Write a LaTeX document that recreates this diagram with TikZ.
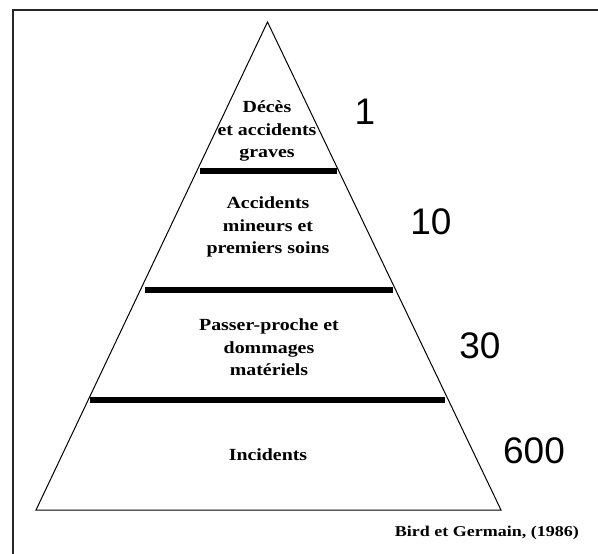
\documentclass[tikz,border=0pt]{standalone}
\usepackage{fontspec}
\setmainfont{Liberation Serif}
\newfontfamily\lblfont{Liberation Serif}[FakeStretch=1.17]
\newfontfamily\citefont{Liberation Serif}[FakeStretch=1.2]
\newfontfamily\numfont{Liberation Sans}
\begin{document}
\begin{tikzpicture}[x=1pt,y=-1pt,
  lbl/.style={align=center, font=\lblfont\bfseries\fontsize{17}{22.5}\selectfont, inner sep=0pt},
  num/.style={font=\numfont\fontsize{37}{40}\selectfont, inner sep=0pt},
  cite/.style={font=\citefont\bfseries\fontsize{15}{18}\selectfont, inner sep=0pt},
  bar/.style={line width=6pt},
  pyr/.style={line width=1pt, line join=miter},
  frame/.style={line width=1.5pt, black!85}]
\useasboundingbox (0,0) rectangle (598,554);
% frame (only top and left edges visible)
\coordinate (fbl) at (13,554);
\coordinate (ftl) at (13,10);
\coordinate (ftr) at (598,10);
\draw[frame] (fbl) -- (ftl) -- (ftr);
% pyramid
\coordinate (apex) at (267.5,22);
\coordinate (bl) at (36,510);
\coordinate (br) at (501,510);
\draw[pyr] (apex) -- (br) -- (bl) -- cycle;
% separating bars
\coordinate (b1l) at (200,171);
\coordinate (b1r) at (337,171);
\coordinate (b2l) at (145,290);
\coordinate (b2r) at (393,290);
\coordinate (b3l) at (90,399.5);
\coordinate (b3r) at (445,399.5);
\draw[bar] (b1l) -- (b1r);
\draw[bar] (b2l) -- (b2r);
\draw[bar] (b3l) -- (b3r);
% labels
\node[lbl] (l1) at (267,131) {Décès\\et accidents\\graves};
\node[lbl] (l2) at (268,227) {Accidents\\mineurs et\\premiers soins};
\node[lbl] (l3) at (269,347.5) {Passer-proche et\\dommages\\matériels};
\node[lbl] (l4) at (268,455) {Incidents};
% numbers
\node[num] (n1) at (365,112) {1};
\node[num] (n2) at (431,222) {10};
\node[num] (n3) at (480,346) {30};
\node[num] (n4) at (534,451) {600};
% citation
\node[cite, anchor=east] (src) at (579,533) {Bird et Germain, (1986)};
\end{tikzpicture}
\end{document}
